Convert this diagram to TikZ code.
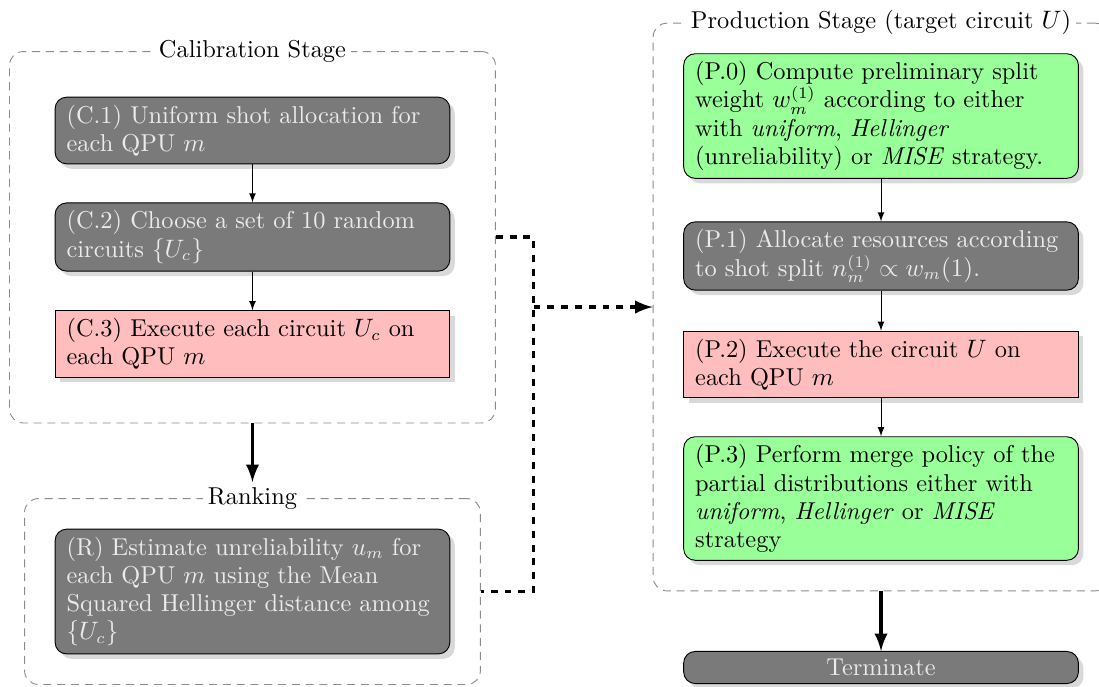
\documentclass[tikz,border=0pt]{standalone}
\usepackage{amsmath}
\usepackage{amssymb}
\usepackage{tikz}
\usetikzlibrary{arrows}
\usetikzlibrary{positioning}
\usetikzlibrary{shadows}
\usetikzlibrary{fit}
\hyphenpenalty=10000
\exhyphenpenalty=10000
\tikzset{every node/.style = {font = \fontsize{10.6pt}{12.3pt}\selectfont}}
\tikzset{stepbox/.style = {draw, text width = 5.68cm, inner xsep = 5pt, align = flush left, drop shadow = {opacity = 0.3}}}
\tikzset{stepgray/.style = {stepbox, rounded corners = 5, fill = black!52, text = black!8}}
\tikzset{steppink/.style = {stepbox, fill = red!26}}
\tikzset{stepgreen/.style = {stepbox, rounded corners = 5, fill = green!40}}
\tikzset{stage/.style = {draw = black!45, dash pattern = on 3.5pt off 2.5pt, rounded corners = 6}}
\tikzset{stagetitle/.style = {fill = white, inner sep = 2}}
\tikzset{thinarrow/.style = {-latex}}
\tikzset{bigarrow/.style = {-latex, ultra thick}}
\tikzset{linkline/.style = {ultra thick, dashed}}

\begin{document}
\begin{tikzpicture}

      \useasboundingbox (0, 0) rectangle (16.794, -10.483);

      % calibration column
      \node [stepgray] (c1) at (3.858, -1.994) {(C.1) Uniform shot allocation for each QPU $m$};
      \node [stepgray] (c2) at (3.858, -3.622) {(C.2) Choose a set of 10 random circuits $\{U_c\}$};
      \node [steppink] (c3) at (3.858, -5.257) {(C.3) Execute each circuit $U_c$ on each QPU $m$};
      \node [stepgray] (r) at (3.858, -9.039) {(R) Estimate unreliability $u_m$ for each QPU $m$ using the Mean Squared Hellinger distance among $\{U_c\}$};

      % production column
      \node [stepgreen] (p0) at (13.463, -1.773) {(P.0) Compute preliminary split weight $w_m^{(1)}$ according to either with \emph{uniform}, \emph{Hellinger} (unreliability) or \emph{MISE} strategy.};
      \node [stepgray] (p1) at (13.463, -3.912) {(P.1) Allocate resources according to shot split $n_m^{(1)} \propto w_m(1)$.};
      \node [steppink] (p2) at (13.463, -5.570) {(P.2) Execute the circuit $U$ on each QPU $m$};
      \node [stepgreen] (p3) at (13.463, -7.618) {(P.3) Perform merge policy of the partial distributions either with \emph{uniform}, \emph{Hellinger} or \emph{MISE} strategy};
      \node [stepgray, align = center] (term) at (13.463, -10.200) {Terminate};

      % stages
      \node [stage, fit = (c1) (c2) (c3), inner sep = 0.69cm] (calib) {};
      \node [stagetitle] (calibtitle) at (calib.north) {Calibration Stage};
      \node [stage, fit = (r), inner sep = 0.46cm] (rank) {};
      \node [stagetitle] (ranktitle) at (rank.north) {Ranking};
      \node [stage, fit = (p0) (p1) (p2) (p3), inner sep = 0.46cm] (prod) {};
      \node [stagetitle] (prodtitle) at (prod.north) {Production Stage (target circuit $U$)};

      \draw [thinarrow] (c1) -- (c2);
      \draw [thinarrow] (c2) -- (c3);
      \draw [thinarrow] (p0) -- (p1);
      \draw [thinarrow] (p1) -- (p2);
      \draw [thinarrow] (p2) -- (p3);
      \draw [bigarrow] (calib) -- (ranktitle);
      \draw [bigarrow] (prod) -- (term);

      \path (prod.west) ++(-1.82, 0) coordinate (junc);
      \draw [linkline] (calib.east) -| (junc) |- (rank.east);
      \draw [linkline, -latex] (junc) -- (prod.west);
    \end{tikzpicture}
\end{document}
